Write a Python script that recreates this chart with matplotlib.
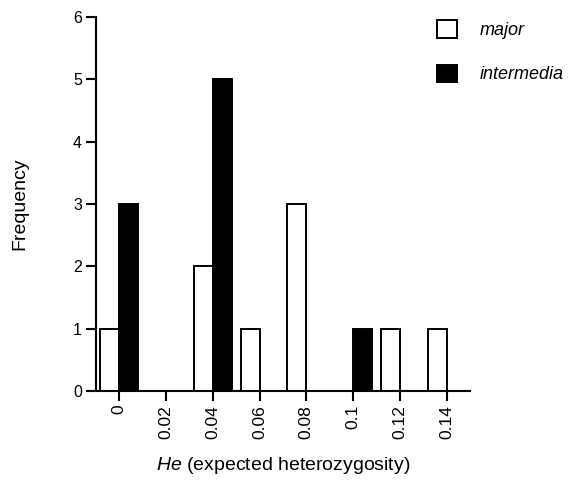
import numpy as np
import matplotlib
matplotlib.use('Agg')
import matplotlib.pyplot as plt

plt.rcParams['font.family'] = ['Liberation Sans', 'DejaVu Sans']
plt.rcParams['mathtext.fontset'] = 'custom'
plt.rcParams['mathtext.it'] = 'Liberation Sans:italic'
plt.rcParams['mathtext.rm'] = 'Liberation Sans'

# He bins and counts per species
bins = [0, 0.02, 0.04, 0.06, 0.08, 0.1, 0.12, 0.14]
tick_labels = ['0', '0.02', '0.04', '0.06', '0.08', '0.1', '0.12', '0.14']
major = [1, 0, 2, 1, 3, 0, 1, 1]
intermedia = [3, 0, 5, 0, 0, 1, 0, 0]

fig = plt.figure(figsize=(5.71, 4.82), dpi=100)
ax = fig.add_axes([0.168, 0.189, 0.655, 0.776])

w = 0.0081
b1 = ax.bar(bins, major, width=-w, align='edge', color='white',
            edgecolor='black', linewidth=1.4, label='major')
b2 = ax.bar(bins, intermedia, width=w, align='edge', color='black',
            edgecolor='black', linewidth=1.4, label='intermedia')

ax.set_xlim(-0.01, 0.15)
ax.set_ylim(0, 6)
ax.set_xticks(bins)
ax.set_xticklabels(tick_labels, rotation=90)
ax.set_yticks(range(7))

for s in ['top', 'right']:
    ax.spines[s].set_visible(False)
for s in ['left', 'bottom']:
    ax.spines[s].set_linewidth(1.5)
ax.tick_params(direction='out', length=7, width=1.5, labelsize=11.5, pad=3)
ax.tick_params(axis='x', labelsize=12.5)

ax.set_xlabel(r'$\mathit{He}$ (expected heterozygosity)', fontsize=14, labelpad=12)
ax.set_ylabel('Frequency', fontsize=14, labelpad=32)

leg = ax.legend(handles=[b1, b2], loc='upper left', bbox_to_anchor=(0.765, 0.958),
                bbox_transform=fig.transFigure, frameon=False,
                prop={'style': 'italic', 'size': 13},
                handlelength=1.1, handleheight=1.1, labelspacing=1.42,
                handletextpad=1.3, borderaxespad=0, borderpad=0)

fig.savefig('out.png', dpi=100)
